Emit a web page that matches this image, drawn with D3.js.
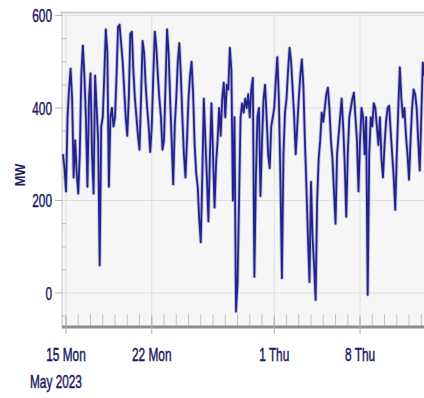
<!DOCTYPE html>
<html>
<head>
<meta charset="utf-8">
<script src="https://cdn.jsdelivr.net/npm/d3@7"></script>
<style>
  body { margin: 0; background: #fff; overflow: hidden; }
  text { font-family: "Liberation Sans", Arial, sans-serif; }
</style>
</head>
<body>
<div id="chart"></div>
<script>
// 3-hourly MW readings, first point at 14 May 2023 18:00
const startTime = new Date(2023, 4, 14, 18, 0);
const stepHours = 3;

const mwMay14to21 = [
    300, 270,
    220, 380, 440, 485, 420, 250, 330, 260,
    215, 300, 470, 535, 470, 380, 230, 420,
    475, 300, 215, 470, 400, 330, 60, 360,
    380, 470, 570, 520, 230, 380, 400, 360,
    380, 470, 575, 580, 540, 500, 440, 380,
    340, 420, 560, 565, 480, 420, 380, 340,
    310, 420, 545, 520, 450, 400, 360, 305
];
const mwMay22to28 = [
    360, 470, 565, 530, 470, 420, 380, 310,
    330, 450, 570, 520, 420, 330, 235, 360,
    420, 500, 540, 470, 380, 300, 250, 330,
    420, 470, 500, 430, 320, 260, 230, 160,
    110, 250, 420, 330, 250, 155, 300, 410,
    300, 185, 280, 330, 400, 340, 420, 455,
    380, 450, 440, 530, 480, 200, 380, -40
];
const mwMay29toJun4 = [
    20, 200, 380, 410, 390, 420, 400, 430,
    380, 440, 465, 35, 250, 380, 400, 210,
    330, 420, 450, 380, 300, 270, 360, 380,
    400, 460, 510, 420, 250, 32, 300, 390,
    420, 480, 530, 500, 440, 380, 300, 360,
    420, 470, 505, 450, 330, 230, 120, 24,
    240, 120, 60, -15, 200, 290, 330, 390
];
const mwJun5to13 = [
    370, 400, 430, 444, 400, 330, 290, 220,
    150, 300, 340, 380, 420, 360, 280, 165,
    300, 380, 400, 420, 433, 380, 330, 220,
    330, 400, 380, 300, 380, -4, 300, 380,
    360, 410, 400, 360, 320, 380, 290, 250,
    320, 370, 400, 405, 350, 300, 250, 180,
    300, 400, 488, 420, 380, 400, 340, 300,
    245, 330, 400, 440, 430, 400, 330, 265,
    380, 498, 470
];

const yTicks = [0, 200, 400, 600];
const xTickDates = [new Date(2023, 4, 15), new Date(2023, 4, 22), new Date(2023, 5, 1), new Date(2023, 5, 8)];
const xTickLabels = ['15 Mon', '22 Mon', '1 Thu', '8 Thu'];
const yearLabel = 'May 2023';
const unitLabel = 'MW';

const mwValues = [].concat(mwMay14to21, mwMay22to28, mwMay29toJun4, mwJun5to13);
const series = mwValues.map((v, i) => ({ t: d3.timeHour.offset(startTime, i * stepHours), v }));

const W = 424, H = 398;
const plot = { left: 62, right: 424, top: 12.5, bottom: 327 };
const navy = '#1a1a62';
const narrow = 0.64; // horizontal squeeze to mimic a narrow font

const svg = d3.select('#chart').append('svg')
    .attr('width', W)
    .attr('height', H);

const x = d3.scaleTime()
    .domain([new Date(2023, 4, 14, 16, 10), new Date(2023, 5, 13, 5, 20)])
    .range([plot.left, plot.right]);

const y = d3.scaleLinear()
    .domain([-73.5, 606.5])
    .range([plot.bottom, plot.top]);

// narrow label helper: place at (px, py), squeeze horizontally
function label(px, py, txt, anchor) {
    return svg.append('g')
        .attr('transform', `translate(${px},${py}) scale(${narrow},1)`)
        .append('text')
        .attr('text-anchor', anchor)
        .attr('fill', navy)
        .attr('stroke', navy)
        .attr('stroke-width', 0.5)
        .style('font-size', '18.5px')
        .text(txt);
}

// plot background
svg.append('rect')
    .attr('x', plot.left)
    .attr('y', plot.top)
    .attr('width', plot.right - plot.left)
    .attr('height', plot.bottom - plot.top)
    .attr('fill', '#f6f6f6');

// gridlines
svg.append('g')
    .selectAll('line')
    .data(yTicks)
    .enter().append('line')
    .attr('x1', plot.left).attr('x2', plot.right)
    .attr('y1', d => y(d)).attr('y2', d => y(d))
    .attr('stroke', '#e0e0e0');

svg.append('g')
    .selectAll('line')
    .data(xTickDates)
    .enter().append('line')
    .attr('x1', d => x(d)).attr('x2', d => x(d))
    .attr('y1', plot.top).attr('y2', plot.bottom)
    .attr('stroke', '#e0e0e0');

// top border
svg.append('line')
    .attr('x1', plot.left - 2).attr('x2', plot.right)
    .attr('y1', plot.top).attr('y2', plot.top)
    .attr('stroke', '#cfcfcf')
    .attr('stroke-width', 2);

// left axis
svg.append('line')
    .attr('x1', plot.left).attr('x2', plot.left)
    .attr('y1', plot.top).attr('y2', plot.bottom)
    .attr('stroke', '#c4c4c4');

const minorY = d3.range(-50, 601, 50).filter(v => !yTicks.includes(v));
svg.append('g')
    .selectAll('line')
    .data(minorY)
    .enter().append('line')
    .attr('x1', plot.left).attr('x2', plot.left + 4)
    .attr('y1', d => y(d)).attr('y2', d => y(d))
    .attr('stroke', '#b8b8b8');

svg.append('g')
    .selectAll('line')
    .data(yTicks)
    .enter().append('line')
    .attr('x1', plot.left - 7).attr('x2', plot.left)
    .attr('y1', d => y(d)).attr('y2', d => y(d))
    .attr('stroke', '#b8b8b8');

yTicks.forEach(v => label(52, y(v) + 6.5, String(v), 'end'));

svg.append('g')
    .attr('transform', 'translate(20,175) rotate(-90) scale(0.85,1)')
    .append('text')
    .attr('text-anchor', 'middle')
    .attr('dy', '0.36em')
    .attr('fill', navy)
    .style('font-size', '15px')
    .style('font-weight', 'bold')
    .text(unitLabel);

// bottom axis: daily minor ticks
const days = d3.timeDay.range(new Date(2023, 4, 15), new Date(2023, 5, 14));
svg.append('g')
    .selectAll('line')
    .data(days.filter(d => x(d) <= plot.right))
    .enter().append('line')
    .attr('x1', d => x(d)).attr('x2', d => x(d))
    .attr('y1', plot.bottom - 13).attr('y2', plot.bottom)
    .attr('stroke', '#c4c4c4');

// data line
svg.append('clipPath').attr('id', 'clip')
    .append('rect')
    .attr('x', plot.left).attr('y', plot.top)
    .attr('width', plot.right - plot.left)
    .attr('height', plot.bottom - plot.top);

const line = d3.line()
    .x(d => x(d.t))
    .y(d => y(d.v));

// soft halo under the trace, like the blurred original
svg.append('path')
    .datum(series)
    .attr('clip-path', 'url(#clip)')
    .attr('d', line)
    .attr('fill', 'none')
    .attr('stroke', '#8080c0')
    .attr('stroke-opacity', 0.45)
    .attr('stroke-width', 3.6)
    .attr('stroke-linejoin', 'round');

svg.append('path')
    .datum(series)
    .attr('clip-path', 'url(#clip)')
    .attr('d', line)
    .attr('fill', 'none')
    .attr('stroke', '#22228c')
    .attr('stroke-width', 1.8)
    .attr('stroke-linejoin', 'round');

svg.append('line')
    .attr('x1', plot.left).attr('x2', plot.right)
    .attr('y1', plot.bottom).attr('y2', plot.bottom)
    .attr('stroke', '#8f8f8f')
    .attr('stroke-width', 3);

svg.append('g')
    .selectAll('line')
    .data(xTickDates)
    .enter().append('line')
    .attr('x1', d => x(d)).attr('x2', d => x(d))
    .attr('y1', plot.bottom - 10).attr('y2', plot.bottom + 7)
    .attr('stroke', '#b0b0b0');

xTickDates.forEach((d, i) => label(x(d), 361, xTickLabels[i], 'middle'));

label(30, 388, yearLabel, 'start');
</script>
</body>
</html>
